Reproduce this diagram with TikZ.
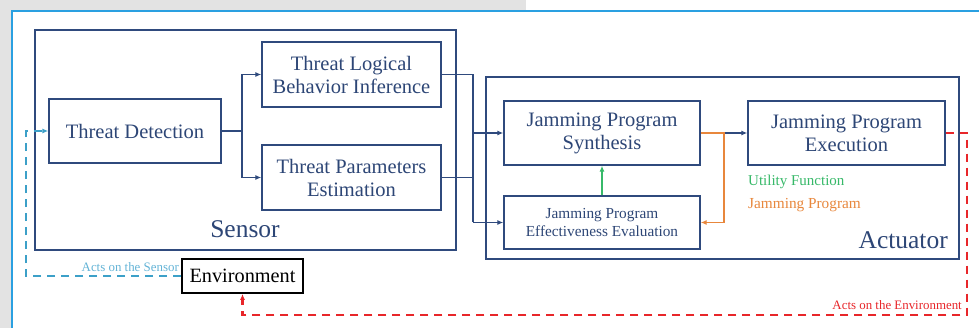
\documentclass[tikz,border=0pt]{standalone}
\usepackage{fontspec}
\setmainfont{Liberation Serif}
\usetikzlibrary{arrows.meta}
\definecolor{navy}{RGB}{47,74,125}
\definecolor{txtblue}{RGB}{45,70,118}
\definecolor{redd}{RGB}{232,38,42}
\definecolor{cyand}{RGB}{60,160,200}
\definecolor{cyanl}{RGB}{100,180,215}
\definecolor{orng}{RGB}{232,135,60}
\definecolor{grn}{RGB}{55,185,105}
\definecolor{frameblue}{RGB}{42,160,225}
\definecolor{bggray}{RGB}{227,227,227}
\tikzset{
  box/.style={draw=navy, line width=1.4pt, text=txtblue, align=center, inner sep=2pt, font=\fontsize{20.5}{23}\selectfont},
  group/.style={draw=navy, line width=1.4pt},
  arr/.style={-{Latex[length=6pt,width=5pt]}},
  link/.style={draw=navy, line width=1.4pt},
  reddash/.style={draw=redd, line width=2.4pt, dash pattern=on 8pt off 6pt},
  cyandash/.style={draw=cyand, line width=2pt, dash pattern=on 8pt off 6pt},
}
\begin{document}
\begin{tikzpicture}[x=1pt,y=-1pt]
\useasboundingbox (0,0) rectangle (979,328);
% background
\fill[bggray] (0,0) rectangle (979,328);
\fill[white] (12,11) rectangle (979,328);
\fill[white] (526,0) rectangle (979,11);
\draw[frameblue, line width=2pt] (12,328) -- (12,11) -- (979,11);
% group boxes
\node[group, minimum width=421pt, minimum height=220pt] (sensor) at (245.5,140) {};
\node[group, minimum width=473pt, minimum height=182pt] (actuator) at (722.5,168) {};
\node[text=txtblue, font=\fontsize{25.5}{28}\selectfont] (sensorlbl) at (245,229) {Sensor};
\node[text=txtblue, font=\fontsize{25.5}{28}\selectfont, anchor=east, inner sep=0pt] (actlbl) at (948,240) {Actuator};
% boxes
\node[box, minimum width=172pt, minimum height=64pt] (td) at (135,131) {Threat Detection};
\node[box, minimum width=179pt, minimum height=65pt] (tlbi) at (351.5,74.5) {Threat Logical\\Behavior Inference};
\node[box, minimum width=179pt, minimum height=65pt] (tpe) at (351.5,177.5) {Threat Parameters\\Estimation};
\node[box, minimum width=196pt, minimum height=64pt] (jps) at (602,133) {Jamming Program\\Synthesis};
\node[box, minimum width=197pt, minimum height=64pt] (jpe) at (846.5,133) {Jamming Program\\Execution};
\node[box, minimum width=196pt, minimum height=53pt, font=\fontsize{15.3}{18.5}\selectfont] (jpee) at (602,222.5) {Jamming Program\\Effectiveness Evaluation};
\node[draw=black, line width=1.8pt, text=black, minimum width=121pt, minimum height=34pt, inner sep=2pt, font=\fontsize{20.3}{23}\selectfont] (env) at (242.5,276) {Environment};
% legend labels
\node[text=grn, anchor=west, inner sep=0pt, font=\fontsize{15}{17}\selectfont] (uf) at (748,182) {Utility Function};
\node[text=orng, anchor=west, inner sep=0pt, font=\fontsize{15.3}{17}\selectfont] (jp) at (748,205) {Jamming Program};
\node[text=cyanl, anchor=east, inner sep=0pt, font=\fontsize{12.9}{15}\selectfont] (aos) at (179,267) {Acts on the Sensor};
\node[text=redd, anchor=east, inner sep=0pt, font=\fontsize{12.9}{15}\selectfont] (aoe) at (962,305) {Acts on the Environment};
% coordinates
\coordinate (s1) at (242,131);
\coordinate (m1) at (473,133);
\coordinate (m2) at (473,222.5);
\coordinate (o1) at (724,133);
\coordinate (r1) at (967,315);
\coordinate (c1) at (26,276);
% connectors
\draw[link] (td.east) -- (s1);
\draw[link, arr] (s1) |- (tlbi.west);
\draw[link, arr] (s1) |- (tpe.west);
\draw[link] (tlbi.east) -| (m2);
\draw[link] (tpe.east) -| (m2);
\draw[link, arr] (m1) -- (jps.west);
\draw[link, arr] (m2) -- (jpee.west);
\draw[link, arr] (jps.east) -- (jpe.west);
\draw[draw=orng, line width=1.4pt, arr] (jps.east) -- (o1) |- (jpee.east);
\draw[draw=grn, line width=1.4pt, arr] (jpee.north) -- (jps.south);
\draw[reddash, arr] (jpe.east) -| (r1) -| (env.south);
\draw[cyandash, arr] (env.west) -- (c1) |- (td.west);
\end{tikzpicture}
\end{document}
